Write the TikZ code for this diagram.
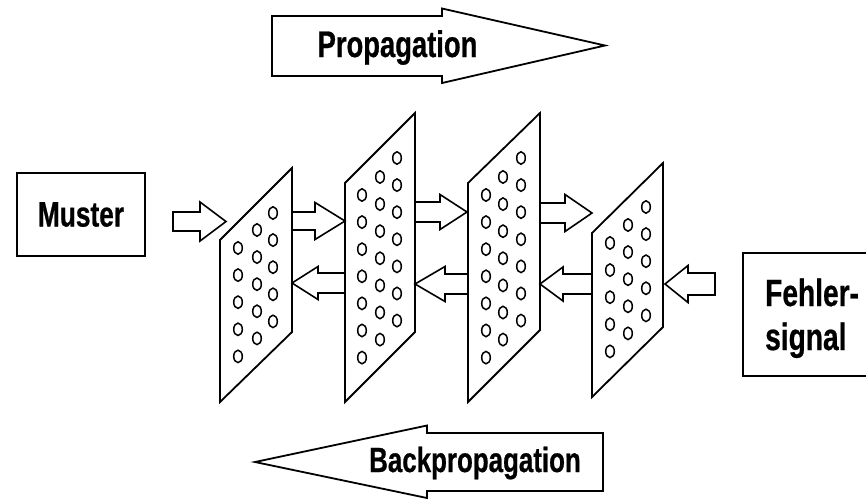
\documentclass[tikz,border=0pt]{standalone}
\usepackage{fontspec}
\newfontfamily\lbl{Liberation Sans}[FakeStretch=0.74,FakeBold=0.6]
\newcommand\lblsize[1]{\fontsize{#1}{#1}\selectfont}
\newcommand\blockarr[6]{%
  \draw[blockarrow] (#1,#4-#5) -- (#2,#4-#5) -- (#2,#4-#6) -- (#3,#4) -- (#2,#4+#6) -- (#2,#4+#5) -- (#1,#4+#5) -- cycle;}
\tikzset{
  blockarrow/.style={draw=black, fill=white, line width=1.6pt, line join=miter},
  bigarrow/.style={draw=black, fill=white, line width=1.8pt, line join=miter},
  plane/.style={draw=black, fill=white, line width=1.8pt, line join=miter},
  neuron/.style={draw=black, line width=1.5pt},
  labelbox/.style={draw=black, line width=1.8pt, fill=white, inner sep=0pt},
  lbltext/.style={font=\lbl\bfseries, inner sep=0pt},
}
\begin{document}
\begin{tikzpicture}[x=1pt,y=-1pt]
\useasboundingbox (0,0) rectangle (866,499);
\fill[white] (0,0) rectangle (866,499);

% big arrows
\draw[bigarrow] (272,16) -- (442,16) -- (442,8.5) -- (605,45.5) -- (442,83) -- (442,76) -- (272,76) -- cycle;
\node[lbltext, anchor=base] (prop) at (397.5,57) {\lblsize{37}Propagation};
\draw[bigarrow] (603,433) -- (427,433) -- (427,425.5) -- (255,462) -- (427,498) -- (427,491) -- (603,491) -- cycle;
\node[lbltext, anchor=base] (backprop) at (475,472) {\lblsize{35}Backpropagation};

% input box
\node[labelbox, minimum width=128pt, minimum height=83pt, font=\lbl\bfseries] (muster) at (81,214.5) {\lblsize{35.5}Muster};

% error box (cut by the right border)
\begin{scope}
\clip (0,0) rectangle (866,499);
\node[labelbox, minimum width=140pt, minimum height=123pt] (fehlerbox) at (813,314.5) {};
\end{scope}
\node[lbltext, anchor=base west] (fehler) at (765,306) {\lblsize{38}Fehler-};
\node[lbltext, anchor=base west] (signal) at (765,350) {\lblsize{38}signal};

% planes
\draw[plane] (220,240) -- (292,168) -- (292,332) -- (220,402) -- cycle;
\draw[plane] (345,183) -- (415,113) -- (415,332) -- (345,402) -- cycle;
\draw[plane] (468,183) -- (540,113) -- (540,330) -- (468,402) -- cycle;
\draw[plane] (592,233) -- (663,163) -- (663,327) -- (592,397) -- cycle;

% neurons
\foreach \cx/\cy/\n in {238/248/5, 257/230/5, 273/213/5,
                        362/195/7, 380/177/7, 397/158/7,
                        486/195/7, 503/177/7, 521/158/7,
                        610/243/5, 628/225/5, 646/207/5}{
  \foreach \k in {1,...,\n}{
    \draw[neuron] (\cx,{\cy+(\k-1)*27.1}) ellipse [x radius=4.3pt, y radius=6.2pt];
  }
}

% small arrows
\blockarr{173}{200}{226}{221.5}{9.5}{19.5}
\blockarr{292}{315}{345}{221}{9}{18.5}
\blockarr{415}{440}{467}{212}{10}{17.5}
\blockarr{540}{565}{592}{213}{10}{18.5}
\blockarr{345}{318}{292}{283}{10}{16.5}
\blockarr{468}{445}{415}{284}{10}{17.5}
\blockarr{592}{563}{540}{284}{10}{17}
\blockarr{715}{688}{665}{284}{11}{18.5}
\end{tikzpicture}
\end{document}
